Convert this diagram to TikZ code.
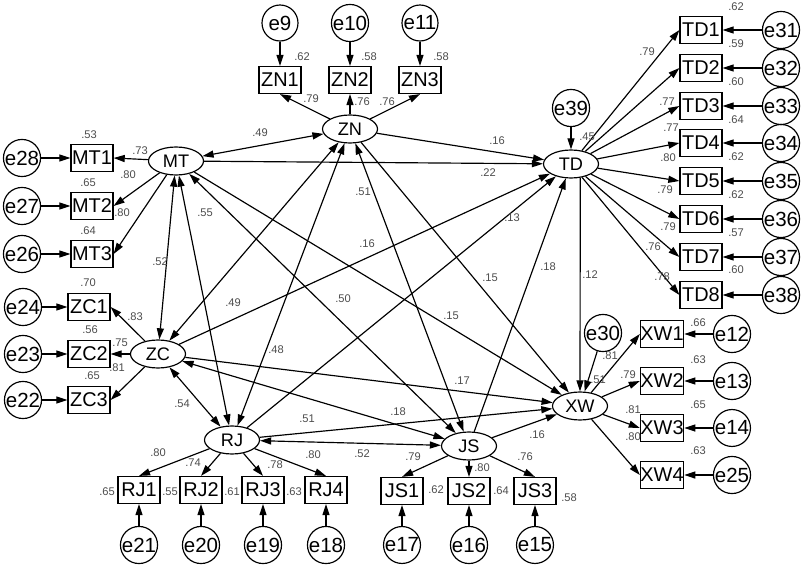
\documentclass[tikz,border=0pt]{standalone}
\usepackage{fontspec}
\setmainfont{Liberation Sans}
\usetikzlibrary{shapes.geometric}
\usetikzlibrary{arrows.meta}

\tikzset{
  lat/.style={draw, ellipse, line width=1pt, minimum width=1.65cm, minimum height=0.84cm, inner sep=0pt, font=\fontsize{15.5}{15.5}\selectfont},
  ind/.style={draw, rectangle, line width=1pt, minimum width=1.26cm, minimum height=0.81cm, inner sep=0pt, font=\fontsize{17}{17}\selectfont},
  err/.style={draw, circle, line width=1pt, minimum size=1.08cm, inner sep=0pt, font=\fontsize{17.5}{17.5}\selectfont},
  num/.style={inner sep=0pt, text=black!70, font=\fontsize{9.5}{9.5}\selectfont},
  arr/.style={-{Triangle[length=9.5pt,width=6pt]}, line width=1pt},
  cor/.style={{Triangle[length=9.5pt,width=6pt]}-{Triangle[length=9.5pt,width=6pt]}, line width=1pt}
}

\begin{document}
\begin{tikzpicture}[x=0.03cm, y=-0.03cm]
\useasboundingbox (0,0) rectangle (803,566);

% latent variables
\node[lat] (MT) at (176,161) {MT};
\node[lat] (ZN) at (350,129) {ZN};
\node[lat] (TD) at (571,164) {TD};
\node[lat] (ZC) at (158,354) {ZC};
\node[lat] (RJ) at (232,440) {RJ};
\node[lat] (JS) at (469,446) {JS};
\node[lat] (XW) at (580,406) {XW};

% ZN block
\node[ind] (ZN1) at (280,80) {ZN1};
\node[ind] (ZN2) at (350,80) {ZN2};
\node[ind] (ZN3) at (420,80) {ZN3};
\node[err] (e9) at (280,23) {e9};
\node[err] (e10) at (350,23) {e10};
\node[err] (e11) at (420,23) {e11};

% MT block
\node[ind] (MT1) at (92,158) {MT1};
\node[ind] (MT2) at (92,206) {MT2};
\node[ind] (MT3) at (92,254) {MT3};
\node[err] (e28) at (22,158) {e28};
\node[err] (e27) at (22,206) {e27};
\node[err] (e26) at (22,254) {e26};

% ZC block
\node[ind] (ZC1) at (89,307) {ZC1};
\node[ind] (ZC2) at (89,354) {ZC2};
\node[ind] (ZC3) at (89,400) {ZC3};
\node[err] (e24) at (23,307) {e24};
\node[err] (e23) at (23,354) {e23};
\node[err] (e22) at (23,400) {e22};

% RJ block
\node[ind] (RJ1) at (139,490) {RJ1};
\node[ind] (RJ2) at (201,490) {RJ2};
\node[ind] (RJ3) at (263,490) {RJ3};
\node[ind] (RJ4) at (326,490) {RJ4};
\node[err] (e21) at (139,545) {e21};
\node[err] (e20) at (201,545) {e20};
\node[err] (e19) at (263,545) {e19};
\node[err] (e18) at (326,545) {e18};

% JS block
\node[ind] (JS1) at (402,491) {JS1};
\node[ind] (JS2) at (469,491) {JS2};
\node[ind] (JS3) at (535,491) {JS3};
\node[err] (e17) at (402,545) {e17};
\node[err] (e16) at (469,545) {e16};
\node[err] (e15) at (535,545) {e15};

% TD block
\node[err] (e39) at (571,108) {e39};
\node[ind] (TD1) at (701,30) {TD1};
\node[ind] (TD2) at (701,68) {TD2};
\node[ind] (TD3) at (701,106) {TD3};
\node[ind] (TD4) at (701,143) {TD4};
\node[ind] (TD5) at (701,181) {TD5};
\node[ind] (TD6) at (701,219) {TD6};
\node[ind] (TD7) at (701,257) {TD7};
\node[ind] (TD8) at (701,295) {TD8};
\node[err] (e31) at (781,30) {e31};
\node[err] (e32) at (781,68) {e32};
\node[err] (e33) at (781,106) {e33};
\node[err] (e34) at (781,143) {e34};
\node[err] (e35) at (781,181) {e35};
\node[err] (e36) at (781,219) {e36};
\node[err] (e37) at (781,257) {e37};
\node[err] (e38) at (781,295) {e38};

% XW block
\node[err] (e30) at (603,333) {e30};
\node[ind] (XW1) at (662,334) {XW1};
\node[ind] (XW2) at (662,381) {XW2};
\node[ind] (XW3) at (662,428) {XW3};
\node[ind] (XW4) at (662,475) {XW4};
\node[err] (e12) at (732,334) {e12};
\node[err] (e13) at (732,381) {e13};
\node[err] (e14) at (732,428) {e14};
\node[err] (e25) at (732,475) {e25};

% measurement arrows
\draw[arr] (ZN) -- (ZN1.south);
\draw[arr] (ZN) -- (ZN2.south);
\draw[arr] (ZN) -- (ZN3.south);
\draw[arr] (e9) -- (ZN1);
\draw[arr] (e10) -- (ZN2);
\draw[arr] (e11) -- (ZN3);
\draw[arr] (MT) -- (MT1.east);
\draw[arr] (MT) -- (MT2.east);
\draw[arr] (MT) -- (MT3.east);
\draw[arr] (e28) -- (MT1);
\draw[arr] (e27) -- (MT2);
\draw[arr] (e26) -- (MT3);
\draw[arr] (ZC) -- (ZC1.east);
\draw[arr] (ZC) -- (ZC2.east);
\draw[arr] (ZC) -- (ZC3.east);
\draw[arr] (e24) -- (ZC1);
\draw[arr] (e23) -- (ZC2);
\draw[arr] (e22) -- (ZC3);
\draw[arr] (RJ) -- (RJ1.north);
\draw[arr] (RJ) -- (RJ2.north);
\draw[arr] (RJ) -- (RJ3.north);
\draw[arr] (RJ) -- (RJ4.north);
\draw[arr] (e21) -- (RJ1);
\draw[arr] (e20) -- (RJ2);
\draw[arr] (e19) -- (RJ3);
\draw[arr] (e18) -- (RJ4);
\draw[arr] (JS) -- (JS1.north);
\draw[arr] (JS) -- (JS2.north);
\draw[arr] (JS) -- (JS3.north);
\draw[arr] (e17) -- (JS1);
\draw[arr] (e16) -- (JS2);
\draw[arr] (e15) -- (JS3);
\draw[arr] (e39) -- (TD);
\draw[arr] (TD) -- (TD1.west);
\draw[arr] (TD) -- (TD2.west);
\draw[arr] (TD) -- (TD3.west);
\draw[arr] (TD) -- (TD4.west);
\draw[arr] (TD) -- (TD5.west);
\draw[arr] (TD) -- (TD6.west);
\draw[arr] (TD) -- (TD7.west);
\draw[arr] (TD) -- (TD8.west);
\draw[arr] (e31) -- (TD1);
\draw[arr] (e32) -- (TD2);
\draw[arr] (e33) -- (TD3);
\draw[arr] (e34) -- (TD4);
\draw[arr] (e35) -- (TD5);
\draw[arr] (e36) -- (TD6);
\draw[arr] (e37) -- (TD7);
\draw[arr] (e38) -- (TD8);
\draw[arr] (e30) -- (XW);
\draw[arr] (XW) -- (XW1.west);
\draw[arr] (XW) -- (XW2.west);
\draw[arr] (XW) -- (XW3.west);
\draw[arr] (XW) -- (XW4.west);
\draw[arr] (e12) -- (XW1);
\draw[arr] (e13) -- (XW2);
\draw[arr] (e14) -- (XW3);
\draw[arr] (e25) -- (XW4);

% correlations
\draw[cor] (MT) -- (ZN);
\draw[cor] (MT) -- (ZC);
\draw[cor] (MT) -- (RJ);
\draw[cor] (MT) -- (JS);
\draw[cor] (ZN) -- (ZC);
\draw[cor] (ZN) -- (RJ);
\draw[cor] (ZN) -- (JS);
\draw[cor] (ZC) -- (RJ);
\draw[cor] (ZC) -- (JS);
\draw[cor] (RJ) -- (JS);

% structural paths
\draw[arr] (MT) -- (TD);
\draw[arr] (ZN) -- (TD);
\draw[arr] (ZC) -- (TD);
\draw[arr] (RJ) -- (TD);
\draw[arr] (JS) -- (TD);
\draw[arr] (MT) -- (XW);
\draw[arr] (ZN) -- (XW);
\draw[arr] (ZC) -- (XW);
\draw[arr] (RJ) -- (XW);
\draw[arr] (JS) -- (XW);
\draw[arr] (TD.-56) -- (XW.north);

% squared multiple correlations
\node[num] (lZN1) at (302,57) {.62};
\node[num] (lZN2) at (369,57) {.58};
\node[num] (lZN3) at (441,57) {.58};
\node[num] (lMT1) at (89,135) {.53};
\node[num] (lMT2) at (88,183) {.65};
\node[num] (lMT3) at (88,231) {.64};
\node[num] (lZC1) at (88,283) {.70};
\node[num] (lZC2) at (90,330) {.56};
\node[num] (lZC3) at (92,376) {.65};
\node[num] (lRJ1) at (107,492) {.65};
\node[num] (lRJ2) at (170,492) {.55};
\node[num] (lRJ3) at (232,492) {.61};
\node[num] (lRJ4) at (294,492) {.63};
\node[num] (lJS1) at (436,490) {.62};
\node[num] (lJS2) at (501,491) {.64};
\node[num] (lJS3) at (569,498) {.58};
\node[num] (lTD1) at (736,7) {.62};
\node[num] (lTD2) at (736,44) {.59};
\node[num] (lTD3) at (736,82) {.60};
\node[num] (lTD4) at (736,120) {.64};
\node[num] (lTD5) at (736,157) {.62};
\node[num] (lTD6) at (736,195) {.62};
\node[num] (lTD7) at (736,233) {.57};
\node[num] (lTD8) at (736,270) {.60};
\node[num] (lXW1) at (698,323) {.66};
\node[num] (lXW2) at (698,360) {.63};
\node[num] (lXW3) at (698,405) {.65};
\node[num] (lXW4) at (698,451) {.63};
\node[num] (lTD) at (587,137) {.45};
\node[num] (lXW) at (598,380) {.51};

% loadings
\node[num] (wZN1) at (311,99) {.79};
\node[num] (wZN2) at (362,102) {.76};
\node[num] (wZN3) at (387,102) {.76};
\node[num] (wMT1) at (140,151) {.73};
\node[num] (wMT2) at (128,175) {.80};
\node[num] (wMT3) at (122,213) {.80};
\node[num] (wZC1) at (135,317) {.83};
\node[num] (wZC2) at (120,343) {.75};
\node[num] (wZC3) at (117,368) {.81};
\node[num] (wRJ1) at (158,453) {.80};
\node[num] (wRJ2) at (193,463) {.74};
\node[num] (wRJ3) at (275,465) {.78};
\node[num] (wRJ4) at (313,455) {.80};
\node[num] (wJS1) at (413,457) {.79};
\node[num] (wJS2) at (482,468) {.80};
\node[num] (wJS3) at (525,457) {.76};
\node[num] (wTD1) at (647,52) {.79};
\node[num] (wTD2) at (667,102) {.77};
\node[num] (wTD3) at (671,128) {.77};
\node[num] (wTD4) at (668,158) {.80};
\node[num] (wTD5) at (665,190) {.79};
\node[num] (wTD6) at (668,227) {.79};
\node[num] (wTD7) at (653,247) {.76};
\node[num] (wTD8) at (662,277) {.78};
\node[num] (wXW1) at (610,356) {.81};
\node[num] (wXW2) at (628,375) {.79};
\node[num] (wXW3) at (633,410) {.81};
\node[num] (wXW4) at (633,437) {.80};

% correlation and path values
\node[num] (cMTZN) at (260,133) {.49};
\node[num] (cMTZC) at (160,262) {.52};
\node[num] (cMTRJ) at (205,213) {.55};
\node[num] (cMTJS) at (343,299) {.50};
\node[num] (cZNZC) at (233,303) {.49};
\node[num] (cZNRJ) at (276,350) {.48};
\node[num] (cZNJS) at (363,192) {.51};
\node[num] (cZCRJ) at (182,404) {.54};
\node[num] (cZCJS) at (307,419) {.51};
\node[num] (cRJJS) at (362,454) {.52};
\node[num] (bMTTD) at (488,173) {.22};
\node[num] (bZNTD) at (497,141) {.16};
\node[num] (bZCTD) at (367,244) {.16};
\node[num] (bRJTD) at (512,218) {.13};
\node[num] (bJSTD) at (548,267) {.18};
\node[num] (bMTXW) at (451,316) {.15};
\node[num] (bZNXW) at (490,278) {.15};
\node[num] (bZCXW) at (462,381) {.17};
\node[num] (bRJXW) at (398,412) {.18};
\node[num] (bJSXW) at (537,435) {.16};
\node[num] (bTDXW) at (590,275) {.12};
\end{tikzpicture}
\end{document}
